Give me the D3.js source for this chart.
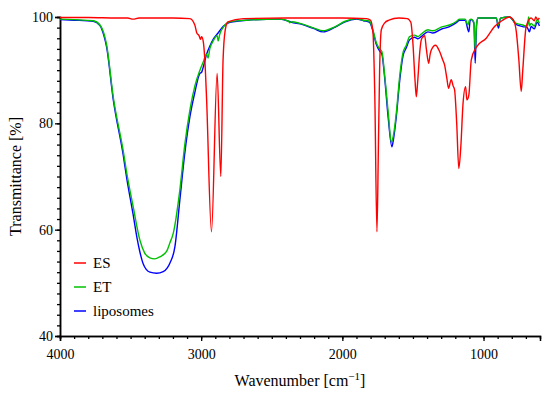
<!DOCTYPE html>
<html>
<head>
<meta charset="utf-8">
<script src="https://cdn.jsdelivr.net/npm/d3@7"></script>
<style>
  body { margin: 0; background: #fff; }
  text { font-family: "Liberation Serif", "Times New Roman", serif; fill: #000; }
</style>
</head>
<body>
<div id="chart-area"></div>
<script>
// wavenumber [cm-1], transmittance [%]
const esData = [
  [4000, 99.9], [3800, 99.9], [3600, 99.8], [3520, 99.8], [3483, 99.6], [3440, 99.8],
  [3200, 99.8], [3080, 99.7], [3045, 98.5], [3031, 97.0], [3015, 96.5], [3005, 95.8],
  [2997, 96.3], [2986, 95.5], [2974, 91.9], [2962, 84.8], [2927, 59.6], [2887, 89.4],
  [2861, 70.0], [2845, 91.9], [2830, 97.5], [2811, 99.1], [2700, 99.7], [2400, 99.8],
  [2000, 99.8], [1830, 99.7], [1800, 99.4], [1783, 97.0], [1770, 85], [1755, 59.6],
  [1745, 75], [1736, 90], [1724, 97.6], [1700, 98.9], [1670, 99.4], [1600, 99.8],
  [1540, 99.7], [1515, 99.0], [1500, 95], [1485, 88], [1476, 85.0], [1466, 88],
  [1453, 93], [1441, 95.7], [1428, 96.3], [1417, 96.5], [1405, 94], [1389, 91.3],
  [1378, 93], [1370, 93.8], [1340, 94.7], [1311, 93.5], [1290, 92], [1276, 91.0],
  [1260, 88.5], [1248, 86.6], [1229, 88.2], [1215, 87], [1205, 86.3], [1190, 80],
  [1175, 71.5], [1160, 76], [1146, 83.4], [1127, 86.9], [1118, 84.4], [1104, 85.3],
  [1087, 91.9], [1052, 94.3], [981, 96.0], [922, 98.2], [870, 99.3], [816, 100],
  [790, 99.5], [769, 97.5], [750, 92], [733, 86], [722, 90], [698, 98.2], [663, 99.8],
  [640, 99.3], [630, 100], [618, 99.5], [604, 99.8]
];

const etData = [
  [4000, 99.6], [3900, 99.5], [3764, 99.3], [3717, 98.5], [3690, 97], [3670, 94.8],
  [3623, 85.0], [3552, 74.8], [3528, 70.8], [3483, 64.5], [3434, 58.0], [3400, 55.6],
  [3363, 54.7], [3330, 54.5], [3292, 54.9], [3245, 55.9], [3222, 57.5], [3198, 59.3],
  [3151, 67.5], [3116, 76], [3080, 82.5], [3045, 87], [3009, 90.0], [2986, 91.5],
  [2962, 93.0], [2951, 92.3], [2939, 94.0], [2915, 95.5], [2887, 96.5], [2880, 95.5],
  [2868, 96.8], [2845, 98.0], [2797, 99.1], [2679, 99.4], [2443, 99.6], [2380, 99.2],
  [2373, 98.9], [2360, 99.1], [2300, 98.8], [2200, 97.9], [2137, 97.4], [2050, 98.2],
  [1980, 99.2], [1901, 99.7], [1850, 99.4], [1807, 99.2], [1783, 97.5], [1759, 95.1],
  [1736, 94.0], [1720, 93.5], [1700, 89], [1675, 82], [1653, 76.5], [1640, 77.5],
  [1618, 81.9], [1594, 88.8], [1571, 93.2], [1547, 94.7], [1524, 96.3], [1488, 96.6],
  [1465, 96.3], [1441, 96.8], [1394, 97.6], [1359, 97.4], [1300, 98.1], [1241, 98.5],
  [1190, 99.2], [1170, 99.6], [1130, 99.6], [1111, 98.5], [1100, 99.4], [1087, 99.6],
  [1068, 99.0], [1059, 93.8], [1050, 98.5], [1040, 99.8], [1000, 99.8], [910, 99.8],
  [894, 98.5], [880, 99.8], [816, 100], [769, 98.8], [722, 98.5], [690, 98.2],
  [680, 100], [675, 98.3], [663, 98.8], [640, 98.3], [620, 99.5], [604, 98.8]
];

const lipoData = [
  [4000, 99.5], [3900, 99.4], [3764, 99.2], [3717, 98.4], [3690, 96.6], [3670, 94.4],
  [3623, 84.5], [3552, 74.0], [3528, 69.8], [3483, 63.0], [3455, 58.5], [3434, 55.8],
  [3411, 53.6], [3363, 52.0], [3316, 51.8], [3269, 52.1], [3240, 52.8], [3222, 53.7],
  [3186, 56.8], [3151, 65.6], [3116, 74.4], [3080, 81.2], [3045, 85.8], [3009, 89.4],
  [2997, 89.6], [2986, 90.5], [2962, 93.0], [2939, 94.5], [2915, 95.8], [2880, 97.0],
  [2845, 98.2], [2797, 99.0], [2679, 99.4], [2443, 99.6], [2380, 99.2], [2360, 99.0],
  [2300, 98.7], [2200, 97.8], [2137, 97.2], [2050, 98.1], [1980, 99.1], [1901, 99.6],
  [1850, 99.3], [1807, 99.0], [1783, 97.3], [1759, 94.8], [1736, 93.6], [1720, 93.0],
  [1700, 88.5], [1675, 81], [1649, 75.6], [1638, 77], [1618, 81.2], [1594, 88.0],
  [1571, 92.6], [1547, 94.2], [1524, 95.7], [1488, 96.2], [1465, 95.9], [1441, 96.3],
  [1394, 97.2], [1359, 97.0], [1300, 97.7], [1241, 98.2], [1190, 99.0], [1170, 99.4],
  [1130, 99.4], [1104, 97.2], [1095, 99.3], [1087, 99.5], [1068, 98.8], [1059, 91.3],
  [1050, 98.2], [1040, 99.8], [1000, 99.8], [910, 99.8], [894, 97.9], [880, 99.8],
  [816, 100], [769, 98.6], [722, 98.2], [690, 98.0], [675, 97.2], [663, 98.2],
  [640, 97.8], [620, 99.0], [604, 98.3]
];

const seriesNames = ["ES", "ET", "liposomes"];
const seriesColors = ["#ff0000", "#00c000", "#0000ff"];

const xMajorTicks = [4000, 3000, 2000, 1000];
const xMinorTicks = d3.range(4000, 600, -100);
const yMajorTicks = [40, 60, 80, 100];
const yMinorTicks = d3.range(40, 101, 2);

let svgW = 550;
let svgH = 393;

let margin = {
  left: 60,
  right: 10,
  top: 17,
  bottom: 57
}

let x = d3.scaleLinear()
  .domain([4000, 600])
  .range([margin.left, svgW - margin.right])

let y = d3.scaleLinear()
  .domain([40, 100])
  .range([svgH - margin.bottom, margin.top])

let svg = d3.select("#chart-area")
  .append("svg")
  .attr("width", svgW)
  .attr("height", svgH)

// axes: minor ticks first, then major with labels
let xAxisG = svg.append("g")
  .attr("transform", `translate(0, ${y(40)})`)

xAxisG.call(d3.axisBottom(x).tickValues(xMinorTicks).tickSize(3).tickFormat(""))
xAxisG.append("g").call(d3.axisBottom(x).tickValues(xMajorTicks).tickSize(5).tickFormat(d3.format("d")))

let yAxisG = svg.append("g")
  .attr("transform", `translate(${x(4000)}, 0)`)

yAxisG.call(d3.axisLeft(y).tickValues(yMinorTicks).tickSize(3).tickFormat(""))
yAxisG.append("g").call(d3.axisLeft(y).tickValues(yMajorTicks).tickSize(5).tickFormat(d3.format("d")))

svg.selectAll(".domain")
  .attr("stroke", "#000")
  .attr("stroke-width", 1.5)

svg.selectAll(".tick line")
  .attr("stroke", "#000")
  .attr("stroke-width", 1.3)

svg.selectAll(".tick text")
  .style("font-size", "14px")
  .style("font-family", "Liberation Serif, serif")

xAxisG.selectAll(".tick text").attr("dy", "1.05em")
yAxisG.selectAll(".tick text").attr("x", -7)

// spectra
let line = d3.line()
  .x(d => x(d[0]))
  .y(d => y(d[1]))
  .curve(d3.curveMonotoneX)

let series = [lipoData, etData, esData];
let colors = [seriesColors[2], seriesColors[1], seriesColors[0]];

svg.append("g")
  .selectAll("path")
  .data(series)
  .enter()
  .append("path")
  .attr("d", d => line(d))
  .attr("fill", "none")
  .attr("stroke", (d, i) => colors[i])
  .attr("stroke-width", 1.4)
  .attr("stroke-linejoin", "round")

// legend
let legend = svg.append("g")
  .attr("transform", "translate(74, 263)")

let rows = legend.selectAll("g")
  .data(seriesNames)
  .enter()
  .append("g")
  .attr("transform", (d, i) => `translate(0, ${i * 24})`)

rows.append("line")
  .attr("x1", 0)
  .attr("x2", 12)
  .attr("stroke", (d, i) => seriesColors[i])
  .attr("stroke-width", 1.5)

rows.append("text")
  .attr("x", 19)
  .attr("y", 5)
  .style("font-size", "15px")
  .text(d => d)

// axis titles
svg.append("text")
  .attr("transform", `translate(21, ${(y(40) + y(100)) / 2}) rotate(-90)`)
  .attr("text-anchor", "middle")
  .style("font-size", "16px")
  .text("Transmittance [%]")

let xTitle = svg.append("text")
  .attr("x", 300)
  .attr("y", 386)
  .attr("text-anchor", "middle")
  .style("font-size", "16px")

xTitle.append("tspan").text("Wavenumber [cm")
xTitle.append("tspan").attr("dy", -6).style("font-size", "11px").text("\u22121")
xTitle.append("tspan").attr("dy", 6).text("]")
</script>
</body>
</html>
